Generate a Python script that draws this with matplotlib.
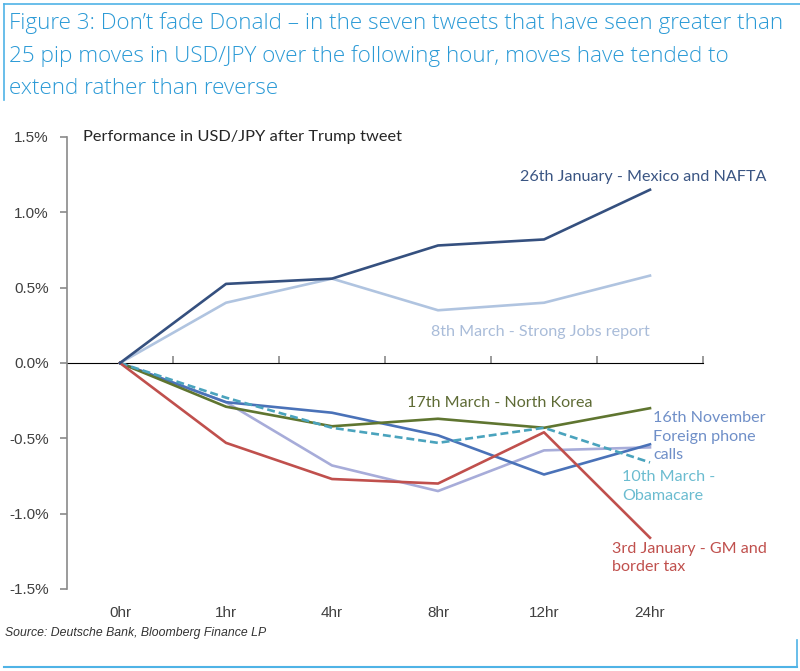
import matplotlib
matplotlib.use("Agg")
import matplotlib.pyplot as plt
from matplotlib.lines import Line2D

# data (% move in USD/JPY)
hours = ["0hr", "1hr", "4hr", "8hr", "12hr", "24hr"]
mexico_nafta = [0, 0.525, 0.56, 0.78, 0.82, 1.15]
strong_jobs = [0, 0.40, 0.56, 0.35, 0.40, 0.58]
north_korea = [0, -0.29, -0.42, -0.37, -0.43, -0.30]
phone_calls = [0, -0.26, -0.33, -0.48, -0.74, -0.54]
obamacare = [0, -0.23, -0.43, -0.53, -0.43, -0.66]
unlabeled = [0, -0.26, -0.68, -0.85, -0.58, -0.56]
gm_border = [0, -0.53, -0.77, -0.80, -0.46, -1.16]

yticks = [-1.5, -1.0, -0.5, 0.0, 0.5, 1.0, 1.5]

title_lines = [
    "Figure 3: Don\u2019t fade Donald \u2013 in the seven tweets that have seen greater than",
    "25 pip moves in USD/JPY over the following hour, moves have tended to",
    "extend rather than reverse",
]

fig = plt.figure(figsize=(8, 6.71), dpi=100)
ax = fig.add_axes([67 / 800, 1 - 589 / 671, 636 / 800, 452 / 671])

x = list(range(len(hours)))
lw = 1.9
ax.plot(x, unlabeled, color="#a7acd9", lw=lw)
ax.plot(x, strong_jobs, color="#b0c4e0", lw=lw)
ax.plot(x, phone_calls, color="#4a72b8", lw=lw)
ax.plot(x, north_korea, color="#5f7530", lw=lw)
ax.plot(x, obamacare, color="#4aa3bd", lw=lw, ls=(0, (3, 1.5)))
ax.plot(x, gm_border, color="#c0504d", lw=lw)
ax.plot(x, mexico_nafta, color="#35507f", lw=lw)

ax.set_xlim(-0.5, 5.5)
ax.set_ylim(-1.5, 1.5)

grey = "#8a8a8a"
for s in ["top", "right", "bottom"]:
    ax.spines[s].set_visible(False)
ax.spines["left"].set_color(grey)
ax.spines["left"].set_linewidth(1.2)

ax.set_yticks(yticks)
ax.set_yticklabels([f"{v:.1f}%" for v in yticks])
ax.tick_params(axis="y", direction="out", length=5, color=grey, width=1.2,
               labelsize=11, labelcolor="#404040", pad=8)
ax.set_xticks(x)
ax.set_xticklabels(hours)
ax.tick_params(axis="x", length=0, labelsize=11, labelcolor="#404040", pad=12)
for lab in ax.get_xticklabels() + ax.get_yticklabels():
    lab.set_family("Liberation Sans")

# zero line with boundary ticks
zero = ax.secondary_xaxis(0.5)
zero.set_xticks([0.5, 1.5, 2.5, 3.5, 4.5, 5.5])
zero.set_xticklabels([])
zero.tick_params(direction="out", length=5, color=grey, width=1.2)
zero.spines["bottom"].set_color(grey)
zero.spines["bottom"].set_linewidth(1.2)

lab_font = "Lato"
fs = 11.6
ls = 1.4
ax.text(-0.35, 1.5, "Performance in USD/JPY after Trump tweet", fontsize=11.8,
        color="#262626", family=lab_font, va="center")
ax.text(3.77, 1.235, "26th January - Mexico and NAFTA", fontsize=fs,
        color="#3a5583", family=lab_font, va="center")
ax.text(5.0, 0.206, "8th March - Strong Jobs report", fontsize=fs,
        color="#a9bcd9", family=lab_font, va="center", ha="right")
ax.text(2.71, -0.266, "17th March - North Korea", fontsize=fs,
        color="#5e6b35", family=lab_font, va="center")
ax.text(5.03, -0.49, "16th November\nForeign phone\ncalls", fontsize=fs,
        color="#6f8fc8", family=lab_font, va="center", linespacing=ls)
ax.text(4.74, -0.82, "10th March -\nObamacare", fontsize=fs,
        color="#6bbcd0", family=lab_font, va="center", linespacing=ls)
ax.text(4.64, -1.295, "3rd January - GM and\nborder tax", fontsize=fs,
        color="#c0504d", family=lab_font, va="center", linespacing=ls)

# figure title and frame
frame = "#4fb3e6"
for line, base in zip(title_lines, [29, 62, 94]):
    fig.text(9 / 800, 1 - base / 671, line, fontsize=16.2, color="#2b9ad6",
             family="Open Sans", weight="light", va="baseline")
fig.add_artist(Line2D([4 / 800, 1], [1 - 4 / 671] * 2, color=frame, lw=1.2))
fig.add_artist(Line2D([4 / 800] * 2, [1 - 4 / 671, 1 - 100 / 671], color=frame, lw=1.2))
fig.add_artist(Line2D([4 / 800, 797 / 800], [1 - 667 / 671] * 2, color=frame, lw=1.5))
fig.add_artist(Line2D([797 / 800] * 2, [1 - 640 / 671, 1 - 667 / 671], color=frame, lw=1.2))

fig.text(5 / 800, 1 - 633 / 671, "Source: Deutsche Bank, Bloomberg Finance LP",
         fontsize=8.8, style="italic", color="#333333", family="Liberation Sans",
         va="center")

fig.savefig("out.png", dpi=100)
